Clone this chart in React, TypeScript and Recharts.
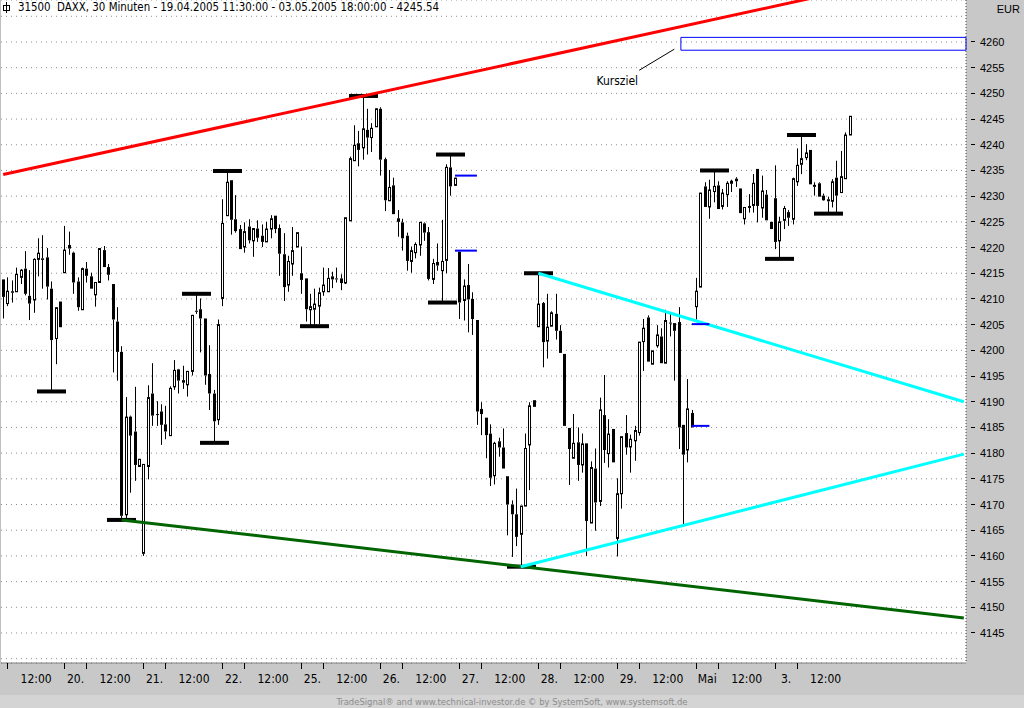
import React from 'react';
import {
  ComposedChart,
  Bar,
  XAxis,
  YAxis,
  CartesianGrid,
  ReferenceLine,
  ReferenceArea,
  ReferenceDot,
} from 'recharts';

// DAXX 30-minute bars, 19.04.2005 11:30 .. 03.05.2005 18:00 (18 bars per full day)
const OPEN = [
  4213.8, 4209.1, 4211.5, 4211.4, 4214.2, 4215.9, 4210.6, 4209.8, 4217.7, 4217.9, 4218.1, 4212.0, 4202.3, 4209.5,
  4215.1, 4220.5, 4219.0, 4213.4, 4207.9, 4215.9, 4214.4, 4210.8, 4213.2, 4219.5, 4216.2, 4212.9, 4205.6, 4199.7, 4168.0, 4187.1, 4184.2, 4177.4,
  4160.5, 4177.4, 4191.6, 4187.6, 4188.1, 4185.6, 4183.4, 4192.9, 4196.3, 4194.2, 4193.3, 4195.9, 4207.7, 4208.0, 4206.2, 4195.4, 4191.6, 4186.5,
  4210.1, 4226.2, 4233.1, 4225.5, 4223.6, 4220.1, 4224.1, 4221.3, 4223.7, 4222.3, 4221.1, 4223.6, 4226.2, 4223.8, 4218.7, 4212.7, 4216.8, 4220.1,
  4215.0, 4214.0, 4207.9, 4208.0, 4208.6, 4211.4, 4211.4, 4214.4, 4214.0, 4214.0, 4213.1, 4225.2, 4236.9, 4240.3, 4239.4, 4242.9, 4241.4, 4243.5,
  4247.0, 4237.2, 4229.1, 4232.1, 4225.7, 4224.9, 4222.3, 4217.3, 4219.0, 4220.5, 4224.7, 4223.0, 4213.8, 4217.2, 4215.5, 4217.5, 4235.6, 4232.1,
  4219.2, 4209.7, 4212.7, 4210.0, 4205.9, 4188.6, 4186.9, 4183.8, 4175.6, 4182.3, 4181.1, 4175.5, 4170.0, 4168.1, 4164.2, 4169.7, 4181.6, 4190.3,
  4204.6, 4209.2, 4201.8, 4204.7, 4207.1, 4203.8, 4199.3, 4184.9, 4179.0, 4182.1, 4177.7, 4181.9, 4166.4, 4177.0, 4170.6, 4187.4, 4179.9, 4184.7,
  4163.4, 4172.1, 4183.9, 4181.2, 4182.4, 4184.0, 4201.7, 4206.4, 4197.3, 4200.9, 4202.7, 4197.5, 4205.4, 4205.3, 4205.5, 4185.5, 4180.6, 4187.8,
  4208.5, 4212.3, 4231.9, 4227.9, 4230.9, 4232.1, 4228.0, 4230.3, 4232.5, 4233.4, 4231.5, 4225.6, 4227.9, 4228.2, 4235.3, 4227.7, 4230.3, 4225.0,
  4229.6, 4221.3, 4225.3, 4226.9, 4225.5, 4232.8, 4236.2, 4237.5, 4239.0, 4232.0, 4232.5, 4230.1, 4229.4, 4229.0, 4233.6, 4230.7, 4233.4, 4241.9,
];

const HIGH = [
  4213.8, 4214.2, 4213.6, 4216.1, 4215.8, 4219.3, 4215.6, 4217.9, 4221.8, 4222.4, 4219.9, 4213.4, 4208.4, 4209.5,
  4224.2, 4223.1, 4219.2, 4214.2, 4216.1, 4217.2, 4215.1, 4213.3, 4219.9, 4220.3, 4216.8, 4212.9, 4208.4, 4200.8, 4190.9, 4187.3, 4192.9, 4178.8,
  4177.8, 4193.2, 4197.5, 4190.1, 4189.5, 4189.2, 4193.0, 4198.1, 4196.4, 4197.0, 4196.0, 4206.9, 4211.0, 4210.1, 4206.2, 4201.0, 4192.3, 4206.0,
  4229.4, 4234.9, 4233.1, 4230.2, 4224.4, 4224.9, 4225.5, 4223.7, 4225.3, 4224.5, 4225.0, 4226.3, 4226.2, 4224.5, 4222.8, 4218.4, 4224.0, 4222.9,
  4220.2, 4214.0, 4211.0, 4212.0, 4212.2, 4216.1, 4216.0, 4215.3, 4216.1, 4214.8, 4225.8, 4237.7, 4243.8, 4242.7, 4249.5, 4247.0, 4244.2, 4247.1,
  4247.3, 4237.5, 4235.1, 4233.6, 4227.3, 4225.6, 4222.9, 4220.2, 4221.0, 4225.0, 4224.9, 4224.0, 4217.8, 4220.8, 4225.4, 4236.2, 4238.1, 4233.6,
  4219.2, 4213.8, 4216.8, 4211.3, 4205.9, 4189.9, 4186.9, 4185.6, 4182.2, 4183.0, 4184.8, 4175.5, 4170.8, 4173.1, 4169.7, 4183.8, 4189.9, 4190.3,
  4215.0, 4209.4, 4211.0, 4207.6, 4211.0, 4204.9, 4199.3, 4184.9, 4187.6, 4185.0, 4183.8, 4181.9, 4178.4, 4180.9, 4190.8, 4195.2, 4186.6, 4184.7,
  4175.1, 4183.2, 4187.4, 4183.6, 4185.3, 4201.6, 4206.1, 4206.8, 4199.9, 4204.9, 4204.3, 4207.9, 4207.3, 4205.3, 4208.4, 4185.5, 4194.4, 4188.4,
  4214.1, 4230.6, 4232.7, 4233.2, 4235.0, 4232.9, 4231.4, 4232.9, 4233.2, 4233.7, 4231.5, 4227.8, 4230.4, 4234.3, 4235.3, 4234.0, 4231.2, 4225.0,
  4236.0, 4226.0, 4228.1, 4227.3, 4233.6, 4239.3, 4241.9, 4240.1, 4239.0, 4232.7, 4232.7, 4230.5, 4229.9, 4233.3, 4236.9, 4238.8, 4242.4, 4245.6,
];

const LOW = [
  4206.2, 4208.6, 4209.3, 4211.4, 4212.9, 4210.7, 4205.9, 4207.3, 4214.4, 4212.0, 4209.9, 4192.0, 4197.3, 4204.5,
  4215.1, 4218.6, 4211.0, 4207.7, 4207.9, 4213.2, 4212.0, 4208.5, 4213.2, 4216.2, 4213.6, 4195.7, 4194.1, 4167.0, 4167.3, 4172.3, 4174.6, 4177.4,
  4160.0, 4174.9, 4185.3, 4185.3, 4181.6, 4182.7, 4183.4, 4192.3, 4191.6, 4192.5, 4191.0, 4195.1, 4207.1, 4199.6, 4193.3, 4188.4, 4182.0, 4185.5,
  4208.6, 4226.2, 4222.5, 4222.9, 4219.7, 4219.0, 4220.8, 4218.2, 4221.1, 4220.1, 4221.1, 4221.8, 4222.8, 4214.5, 4209.6, 4211.4, 4214.5, 4220.1,
  4211.0, 4205.6, 4204.9, 4204.7, 4205.1, 4210.6, 4211.4, 4212.1, 4213.2, 4211.7, 4212.9, 4225.2, 4236.9, 4235.8, 4237.1, 4238.1, 4238.6, 4243.5,
  4234.0, 4227.1, 4229.1, 4226.5, 4222.1, 4219.4, 4215.5, 4215.1, 4217.9, 4218.4, 4221.3, 4213.6, 4212.9, 4215.5, 4209.3, 4215.0, 4230.1, 4232.1,
  4206.1, 4205.8, 4203.5, 4203.0, 4185.5, 4183.5, 4179.0, 4173.6, 4173.9, 4179.3, 4177.0, 4164.0, 4159.8, 4161.9, 4157.9, 4169.7, 4172.8, 4189.0,
  4204.6, 4196.7, 4198.4, 4204.7, 4202.1, 4199.5, 4185.3, 4173.8, 4179.0, 4174.6, 4176.2, 4160.0, 4166.4, 4164.9, 4169.7, 4178.1, 4177.2, 4178.2,
  4159.9, 4169.2, 4179.7, 4176.2, 4178.5, 4183.4, 4196.0, 4197.8, 4197.3, 4200.5, 4197.5, 4197.5, 4202.7, 4194.1, 4180.8, 4166.2, 4178.2, 4185.0,
  4206.0, 4212.3, 4227.9, 4225.6, 4228.8, 4227.5, 4227.4, 4227.9, 4230.8, 4231.8, 4226.7, 4224.5, 4226.8, 4226.8, 4224.9, 4225.8, 4225.3, 4223.6,
  4219.7, 4217.8, 4223.6, 4224.2, 4224.5, 4232.0, 4234.3, 4237.0, 4232.3, 4230.1, 4229.9, 4229.1, 4226.6, 4227.8, 4226.5, 4230.7, 4233.4, 4241.9,
];

const CLOSE = [
  4210.4, 4211.5, 4211.2, 4214.8, 4215.6, 4211.0, 4209.1, 4217.7, 4218.9, 4217.6, 4212.4, 4202.0, 4208.3, 4204.5,
  4219.5, 4219.8, 4213.2, 4208.4, 4215.9, 4214.5, 4212.0, 4213.2, 4219.8, 4216.2, 4214.7, 4206.0, 4199.7, 4167.8, 4187.0, 4183.4, 4177.7, 4178.8,
  4177.8, 4190.8, 4187.3, 4187.4, 4185.5, 4184.2, 4192.6, 4196.1, 4194.1, 4193.7, 4195.9, 4206.8, 4207.5, 4206.2, 4195.1, 4191.6, 4186.2, 4205.0,
  4224.7, 4232.7, 4225.4, 4223.2, 4219.7, 4223.1, 4221.4, 4223.7, 4221.9, 4221.1, 4223.6, 4225.6, 4223.6, 4218.8, 4212.3, 4217.3, 4219.4, 4222.9,
  4213.7, 4208.0, 4208.5, 4209.0, 4211.2, 4212.7, 4214.0, 4213.8, 4213.8, 4213.1, 4225.8, 4237.3, 4239.9, 4239.0, 4243.1, 4241.4, 4243.2, 4247.0,
  4237.1, 4229.2, 4231.7, 4226.5, 4225.0, 4221.8, 4217.4, 4219.4, 4220.6, 4224.9, 4222.9, 4213.9, 4216.9, 4216.5, 4217.3, 4235.6, 4231.9, 4233.5,
  4209.3, 4212.5, 4209.9, 4206.1, 4188.1, 4187.6, 4183.5, 4175.2, 4181.9, 4181.1, 4177.0, 4170.0, 4168.1, 4163.7, 4169.7, 4180.9, 4189.2, 4189.0,
  4209.0, 4201.6, 4204.5, 4207.3, 4203.8, 4199.5, 4185.3, 4180.8, 4181.9, 4177.7, 4181.8, 4166.8, 4177.2, 4170.4, 4188.4, 4180.6, 4183.7, 4178.2,
  4172.1, 4183.2, 4181.1, 4182.7, 4184.4, 4201.6, 4204.3, 4197.8, 4199.9, 4203.0, 4197.5, 4205.8, 4205.2, 4203.8, 4185.0, 4179.7, 4188.6, 4185.0,
  4211.5, 4230.6, 4227.9, 4231.2, 4231.9, 4227.5, 4230.6, 4232.5, 4232.9, 4232.9, 4226.7, 4227.8, 4228.0, 4232.5, 4228.1, 4231.0, 4225.3, 4223.6,
  4221.1, 4225.0, 4227.6, 4225.8, 4233.4, 4236.0, 4237.3, 4238.4, 4232.3, 4232.1, 4229.9, 4229.2, 4229.0, 4232.8, 4230.1, 4233.8, 4241.9, 4245.54,
];

// bars flagged as swing highs / lows (drawn with a thick black bar)
const SWING_HIGHS = [44, 51, 82, 102, 122, 162, 182];
const SWING_LOWS = [11, 27, 48, 71, 100, 118, 177, 188];

// opening gaps (blue)
const GAP_FROM = [103, 103, 157, 157];
const GAP_TO = [108, 108, 161, 161];
const GAP_LEVEL = [4234.0, 4219.4, 4205.1, 4185.3];

// trend lines: [bar, price] anchors
const RED_LINE = [[0, 4234.2], [219, 4275.0]];
const GREEN_LINE = [[27, 4167.0], [219, 4147.9]];
const CYAN_UPPER = [[122, 4215.0], [219, 4190.0]];
const CYAN_LOWER = [[118, 4157.9], [219, 4179.8]];

// price target box
const TARGET_FROM = 155;
const TARGET_TO = 219;
const TARGET_LOW = 4258.4;
const TARGET_HIGH = 4260.9;

const TICK_AT = [1, 14, 19, 32, 37, 50, 55, 68, 73, 86, 91, 104, 109, 122, 127, 140, 145, 158, 163, 176, 181];
const TICK_LABEL = ['12:00', '20.', '12:00', '21.', '12:00', '22.', '12:00', '25.', '12:00', '26.', '12:00', '27.',
  '12:00', '28.', '12:00', '29.', '12:00', 'Mai', '12:00', '3.', '12:00'];

const Y_TICKS = [4140, 4145, 4150, 4155, 4160, 4165, 4170, 4175, 4180, 4185, 4190, 4195, 4200, 4205, 4210,
  4215, 4220, 4225, 4230, 4235, 4240, 4245, 4250, 4255, 4260, 4265];

const SLOTS = 220;
const W = 1024;
const H = 708;
const PLOT_RIGHT = 966;
const PLOT_BOTTOM = 663;
const BAND = (PLOT_RIGHT - 1) / SLOTS;

const NARROW = '"Liberation Sans Narrow", "DejaVu Sans Condensed", "Arial Narrow", sans-serif';
const SANS = '"Liberation Sans", Arial, sans-serif';

const data = Array.from({ length: SLOTS }, (_, i) =>
  i < OPEN.length
    ? {
        i,
        o: OPEN[i],
        h: HIGH[i],
        l: LOW[i],
        c: CLOSE[i],
        range: [LOW[i], HIGH[i]],
        mark: SWING_HIGHS.includes(i) ? 'H' : SWING_LOWS.includes(i) ? 'L' : null,
      }
    : { i }
);

const Candle = (props: any) => {
  const { x, y, width, height, payload } = props;
  if (!payload || payload.h == null) return null;
  const { o, h, l, c, mark } = payload;
  const k = height / (h - l);
  const py = (v: number) => y + (h - v) * k;
  const cx = Math.floor(x + width / 2);
  const top = py(Math.max(o, c));
  const bot = py(Math.min(o, c));
  const body = Math.max(bot - top, 1);
  return (
    <g>
      <line x1={cx + 0.5} x2={cx + 0.5} y1={py(h)} y2={top} stroke="#000" />
      <line x1={cx + 0.5} x2={cx + 0.5} y1={top + body} y2={py(l)} stroke="#000" />
      {c >= o ? (
        <rect x={cx - 0.5} y={top} width={2} height={body} fill="#fff" stroke="#000" />
      ) : (
        <rect x={cx - 1} y={top} width={3} height={body} fill="#000" />
      )}
      {mark && (
        <rect x={cx - 14} y={(mark === 'H' ? py(h) : py(l)) - 2} width={29} height={4} fill="#000" />
      )}
    </g>
  );
};

const TimeTick = (props: any) => {
  const { x, y, payload } = props;
  const k = TICK_AT.indexOf(payload.value);
  if (k < 0) return null;
  const next = k + 1 < TICK_AT.length ? TICK_AT[k + 1] : OPEN.length;
  const mid = x + ((next - payload.value) * BAND) / 2;
  return (
    <g>
      <line x1={Math.floor(x) + 0.5} x2={Math.floor(x) + 0.5} y1={y} y2={y + 6} stroke="#000" />
      <text x={mid} y={y + 16} textAnchor="middle" dominantBaseline="central" fontSize={12} fontFamily={NARROW} fill="#000">
        {TICK_LABEL[k]}
      </text>
    </g>
  );
};

const PriceTick = (props: any) => {
  const { x, y, payload } = props;
  if (payload.value === 4140 || payload.value === 4265) return null;
  return (
    <g>
      <line x1={x + 5} x2={x + 9} y1={Math.floor(y) + 0.5} y2={Math.floor(y) + 0.5} stroke="#000" />
      <text x={x + 14} y={y} dominantBaseline="central" fontSize={11} fontFamily={SANS} fill="#000">
        {payload.value}
      </text>
    </g>
  );
};

const trend = (pts: number[][], color: string) => (
  <ReferenceLine
    segment={[{ x: pts[0][0], y: pts[0][1] }, { x: pts[1][0], y: pts[1][1] }]}
    stroke={color}
    strokeWidth={3}
    ifOverflow="hidden"
  />
);

export default function App() {
  return (
    <div style={{ position: 'absolute', left: 0, top: 0, width: W, height: H, background: '#fff', overflow: 'hidden' }}>
      {/* right price panel and bottom time panel */}
      <div style={{ position: 'absolute', left: PLOT_RIGHT, top: 0, width: W - PLOT_RIGHT, height: 695, background: '#c8c8c8' }} />
      <div style={{ position: 'absolute', left: 0, top: PLOT_BOTTOM, width: PLOT_RIGHT, height: 695 - PLOT_BOTTOM, background: '#c8c8c8' }} />
      <div style={{ position: 'absolute', left: 0, top: 695, width: W, height: H - 695, background: '#d4d4d4' }} />
      <div style={{ position: 'absolute', left: 0, top: 0, width: 1, height: PLOT_BOTTOM, background: '#c0c0c0' }} />

      <div style={{ position: 'absolute', left: 0, top: 0 }}>
        <ComposedChart width={W} height={H} data={data} margin={{ top: 0, right: 0, bottom: 13, left: 1 }} barCategoryGap={0}>
          <CartesianGrid horizontal vertical={false} stroke="#8c8c8c" strokeDasharray="1 4" />
          <XAxis
            dataKey="i"
            type="category"
            height={H - 13 - PLOT_BOTTOM}
            interval={0}
            tickSize={0}
            tickMargin={0}
            axisLine={{ stroke: '#808080' }}
            tick={<TimeTick />}
          />
          <YAxis
            orientation="right"
            width={W - PLOT_RIGHT}
            domain={[4139.16, 4268.17]}
            allowDataOverflow
            ticks={Y_TICKS}
            interval={0}
            tickSize={0}
            tickMargin={0}
            axisLine={{ stroke: '#404040', strokeDasharray: '1 2' }}
            tick={<PriceTick />}
          />

          {trend(RED_LINE, '#ff0000')}
          {trend(GREEN_LINE, '#006400')}
          {trend(CYAN_UPPER, '#00ffff')}
          {trend(CYAN_LOWER, '#00ffff')}

          {GAP_LEVEL.map((lvl, k) => (
            <ReferenceLine
              key={`gap-${k}`}
              segment={[{ x: GAP_FROM[k], y: lvl }, { x: GAP_TO[k], y: lvl }]}
              stroke="#0000ff"
              strokeWidth={2}
            />
          ))}

          <ReferenceArea
            x1={TARGET_FROM}
            x2={TARGET_TO}
            y1={TARGET_LOW}
            y2={TARGET_HIGH}
            fill="none"
            stroke="#0000ff"
            strokeWidth={1}
            ifOverflow="visible"
          />
          <ReferenceLine segment={[{ x: 145, y: 4254.5 }, { x: 153, y: 4258.6 }]} stroke="#000" strokeWidth={1} />
          <ReferenceDot
            x={140}
            y={4252.4}
            r={0}
            shape={(p: any) => (
              <text x={p.cx} y={p.cy} textAnchor="middle" dominantBaseline="central" fontSize={12} fontFamily={NARROW} fill="#000">
                Kursziel
              </text>
            )}
          />

          <Bar dataKey="range" barSize={3} shape={(p: any) => <Candle {...p} />} isAnimationActive={false} />
        </ComposedChart>
      </div>

      {/* title line */}
      <svg style={{ position: 'absolute', left: 2, top: 2 }} width={9} height={11}>
        <rect x={1.5} y={3.5} width={6} height={5} fill="none" stroke="#000" />
        <line x1={4.5} x2={4.5} y1={0} y2={11} stroke="#000" />
      </svg>
      <div style={{ position: 'absolute', left: 18, top: 0, fontFamily: NARROW, fontSize: 11.4, lineHeight: '14px', color: '#000', whiteSpace: 'pre' }}>
        {'31500  DAXX, 30 Minuten - 19.04.2005 11:30:00 - 03.05.2005 18:00:00 - 4245.54'}
      </div>

      {/* currency header */}
      <div style={{ position: 'absolute', left: PLOT_RIGHT, top: 0, width: W - PLOT_RIGHT - 4, height: 18, lineHeight: '18px', textAlign: 'right', fontFamily: SANS, fontSize: 11, color: '#000' }}>
        EUR
      </div>

      {/* footer */}
      <div style={{ position: 'absolute', left: 0, top: 695, width: W, height: 13, lineHeight: '13px', textAlign: 'center', fontFamily: NARROW, fontSize: 9.4, color: '#8c8c8c' }}>
        TradeSignal® and www.technical-investor.de © by SystemSoft, www.systemsoft.de
      </div>
    </div>
  );
}
